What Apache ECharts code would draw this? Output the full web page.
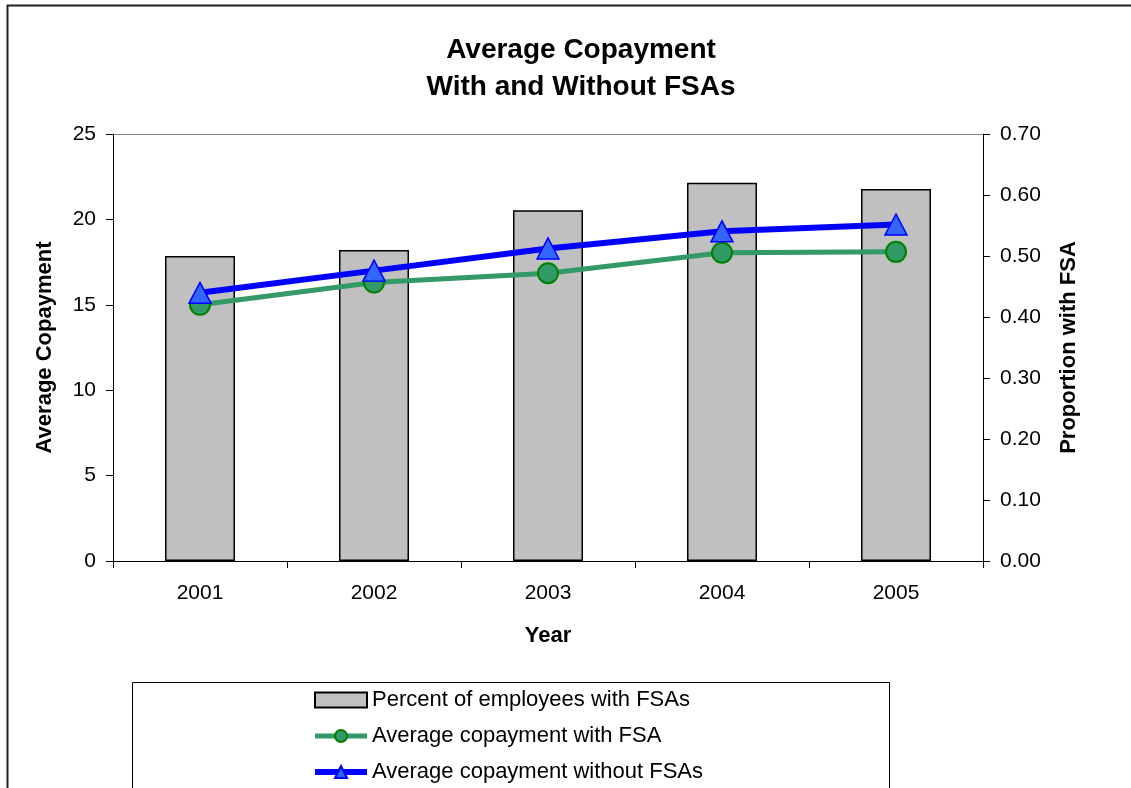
<!DOCTYPE html>
<html>
<head>
<meta charset="utf-8">
<title>Average Copayment With and Without FSAs</title>
<script src="https://cdn.jsdelivr.net/npm/echarts@6/dist/echarts.min.js"></script>
<style>
  html, body { margin: 0; padding: 0; background: #fff; }
  #chart { width: 1131px; height: 788px; }
</style>
</head>
<body>
<div id="chart"></div>
<script>
// Years on the category axis
const years = ['2001', '2002', '2003', '2004', '2005'];
// Share of employees holding an FSA (right axis)
const fsaShare = [0.50, 0.51, 0.575, 0.62, 0.61];
// Average copayment for employees with an FSA (left axis)
const copayWithFsa = [15.0, 16.3, 16.85, 18.05, 18.1];
// Average copayment for employees without an FSA (left axis)
const copayWithoutFsa = [15.7, 17.0, 18.3, 19.3, 19.7];

const FONT = '"Liberation Sans", Arial, sans-serif';

const chart = echarts.init(document.getElementById('chart'), null, { renderer: 'canvas' });

chart.setOption({
  backgroundColor: '#ffffff',
  animation: false,
  textStyle: { fontFamily: FONT, color: '#000' },
  title: {
    text: 'Average Copayment\nWith and Without FSAs',
    left: 576,
    textAlign: 'center',
    top: 27,
    textStyle: { fontFamily: FONT, fontSize: 28, fontWeight: 'bold', color: '#000', lineHeight: 37 }
  },
  grid: { left: 113, right: 148, top: 134, bottom: 227, containLabel: false },
  legend: {
    orient: 'vertical',
    left: 312,
    top: 689,
    height: 140,
    padding: 0,
    itemWidth: 52,
    itemHeight: 15,
    itemGap: 14,
    textStyle: { fontFamily: FONT, fontSize: 22, color: '#000' },
    data: [
      { name: 'Percent of employees with FSAs', icon: 'rect' },
      { name: 'Average copayment with FSA', lineStyle: { width: 5 } },
      { name: 'Average copayment without FSAs', lineStyle: { width: 6 } }
    ]
  },
  xAxis: [
    {
      type: 'category',
      data: years,
      position: 'bottom',
      boundaryGap: true,
      name: 'Year',
      nameLocation: 'middle',
      nameGap: 64,
      nameTextStyle: { fontFamily: FONT, fontSize: 22, fontWeight: 'bold', color: '#000' },
      axisLine: { lineStyle: { color: '#000', width: 1 } },
      axisTick: { show: true, alignWithLabel: false, length: 7, lineStyle: { color: '#000' } },
      axisLabel: { fontFamily: FONT, fontSize: 21, color: '#000', margin: 22 },
      splitLine: { show: false }
    },
    {
      // top edge of the plot area
      type: 'category',
      data: years,
      position: 'top',
      axisLine: { show: true, onZero: false, lineStyle: { color: '#808080', width: 1 } },
      axisTick: { show: false },
      axisLabel: { show: false },
      splitLine: { show: false }
    }
  ],
  yAxis: [
    {
      type: 'value',
      min: 0,
      max: 25,
      interval: 5,
      position: 'left',
      name: 'Average Copayment',
      nameLocation: 'middle',
      nameGap: 57,
      nameRotate: 90,
      nameTextStyle: { fontFamily: FONT, fontSize: 22, fontWeight: 'bold', color: '#000' },
      axisLine: { show: true, lineStyle: { color: '#000', width: 1 } },
      axisTick: { show: true, length: 7, lineStyle: { color: '#000' } },
      axisLabel: { fontFamily: FONT, fontSize: 21, color: '#000', margin: 17 },
      splitLine: { show: false }
    },
    {
      type: 'value',
      min: 0,
      max: 0.7,
      interval: 0.1,
      position: 'right',
      name: 'Proportion with FSA',
      nameLocation: 'middle',
      nameGap: 75,
      nameRotate: 90,
      nameTextStyle: { fontFamily: FONT, fontSize: 22, fontWeight: 'bold', color: '#000' },
      axisLine: { show: true, lineStyle: { color: '#000', width: 1 } },
      axisTick: { show: true, length: 7, lineStyle: { color: '#000' } },
      axisLabel: {
        fontFamily: FONT, fontSize: 21, color: '#000', margin: 17,
        formatter: v => v.toFixed(2)
      },
      splitLine: { show: false }
    }
  ],
  series: [
    {
      name: 'Percent of employees with FSAs',
      type: 'bar',
      xAxisIndex: 0,
      yAxisIndex: 1,
      data: fsaShare,
      barWidth: 70,
      itemStyle: { color: '#C0C0C0', borderColor: '#000', borderWidth: 1.5 },
      z: 1
    },
    {
      name: 'Average copayment with FSA',
      type: 'line',
      xAxisIndex: 0,
      yAxisIndex: 0,
      data: copayWithFsa,
      symbol: 'circle',
      symbolSize: 20,
      lineStyle: { color: '#339966', width: 5 },
      itemStyle: { color: '#339966', borderColor: '#008000', borderWidth: 2 },
      z: 3
    },
    {
      name: 'Average copayment without FSAs',
      type: 'line',
      xAxisIndex: 0,
      yAxisIndex: 0,
      data: copayWithoutFsa,
      symbol: 'triangle',
      symbolSize: [22, 21],
      lineStyle: { color: '#0000FF', width: 6 },
      itemStyle: { color: '#3366FF', borderColor: '#0000FF', borderWidth: 1.5 },
      z: 4
    }
  ],
  graphic: [
    {
      // outer frame (top and left edges)
      type: 'polyline',
      shape: { points: [[7.5, 788], [7.5, 5.5], [1131, 5.5]] },
      style: { stroke: '#222', lineWidth: 2, fill: null },
      silent: true
    },
    {
      // legend box
      type: 'rect',
      shape: { x: 132.5, y: 682.5, width: 757, height: 200 },
      style: { stroke: '#000', lineWidth: 1, fill: '#fff' },
      z: -1,
      silent: true
    }
  ]
});
</script>
</body>
</html>
